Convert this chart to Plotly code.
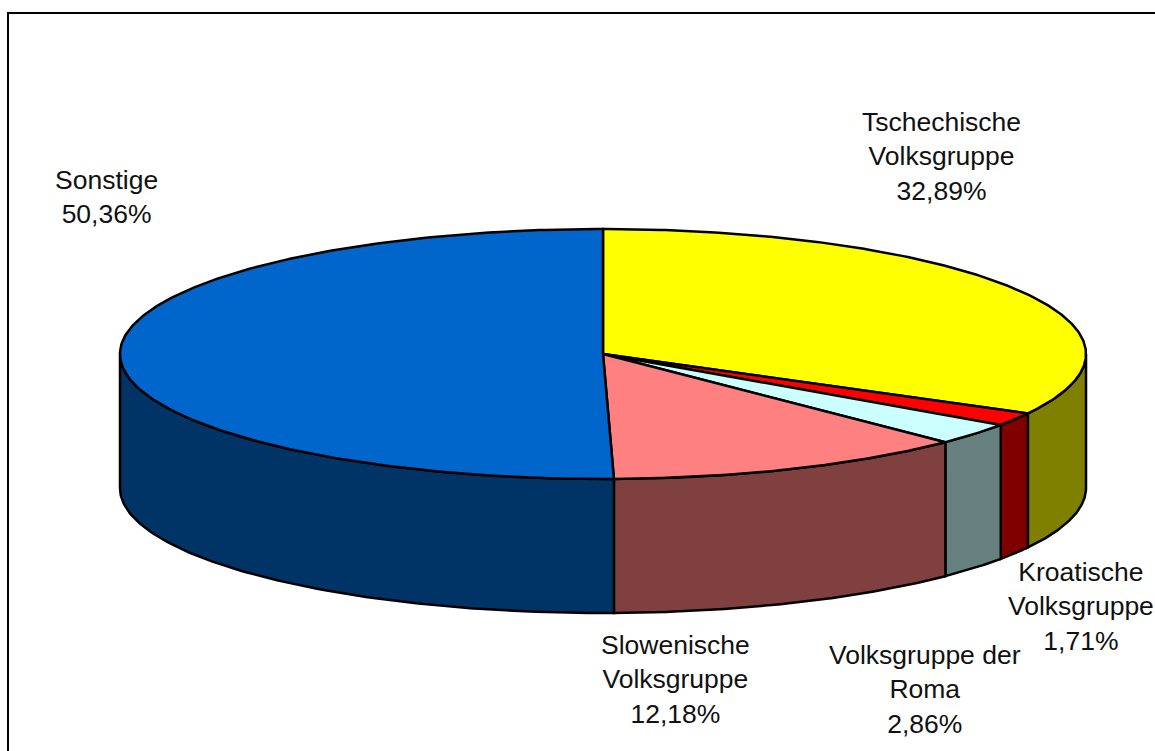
import numpy as np
import plotly.graph_objects as go

labels = ["Tschechische<br>Volksgruppe", "Kroatische<br>Volksgruppe", "Volksgruppe der<br>Roma",
          "Slowenische<br>Volksgruppe", "Sonstige"]
shares = [32.89, 1.71, 2.86, 12.18, 50.36]
top_colors = ["#FFFF00", "#FF0000", "#CCFFFF", "#FF8080", "#0066CC"]
side_colors = ["#808000", "#800000", "#668080", "#804040", "#003366"]
label_pos = [(941, 156), (1081, 606), (925, 689), (675, 679), (106, 197)]

CX, CY, RX, RY, DEPTH = 603, 354, 483, 125, 134

def ell(deg):
    a = np.radians(deg)
    return CX + RX * np.sin(a), CY - RY * np.cos(a)

fig = go.Figure()
bounds = np.concatenate([[0], np.cumsum(shares) / sum(shares) * 360])

# outer wall, visible on the front half of the ellipse only
for i, col in enumerate(side_colors):
    a0, a1 = max(bounds[i], 90), min(bounds[i + 1], 270)
    if a1 <= a0:
        continue
    t = np.linspace(a0, a1, 120)
    x, y = ell(t)
    xs = np.concatenate([x, x[::-1], x[:1]])
    ys = np.concatenate([y, y[::-1] + DEPTH, y[:1]])
    fig.add_trace(go.Scatter(x=xs, y=ys, mode="lines", fill="toself", fillcolor=col,
                             line=dict(color="black", width=2.5), hoverinfo="skip"))

# top face
for i, col in enumerate(top_colors):
    t = np.linspace(bounds[i], bounds[i + 1], 240)
    x, y = ell(t)
    xs = np.concatenate([[CX], x, [CX]])
    ys = np.concatenate([[CY], y, [CY]])
    fig.add_trace(go.Scatter(x=xs, y=ys, mode="lines", fill="toself", fillcolor=col,
                             line=dict(color="black", width=2.5), hoverinfo="skip"))

for lab, val, (lx, ly) in zip(labels, shares, label_pos):
    txt = f"{lab}<br>{val:.2f}%".replace(".", ",")
    fig.add_annotation(x=lx, y=ly, text=txt, showarrow=False, align="center",
                       font=dict(family="Liberation Sans", size=26.5, color="#111111"))

fig.update_layout(
    width=1155, height=751, autosize=False, showlegend=False,
    margin=dict(l=0, r=0, t=0, b=0), paper_bgcolor="white", plot_bgcolor="white",
    xaxis=dict(range=[0, 1155], visible=False, fixedrange=True),
    yaxis=dict(range=[751, 0], visible=False, fixedrange=True),
    shapes=[dict(type="rect", xref="x", yref="y", x0=8, y0=13, x1=1170, y1=770,
                 line=dict(color="black", width=2), layer="below")],
)
fig.write_html("out.html", config=dict(displayModeBar=False),
               post_script="document.body.style.margin='0';document.body.style.overflow='hidden';"
                           "document.documentElement.style.overflow='hidden';")
